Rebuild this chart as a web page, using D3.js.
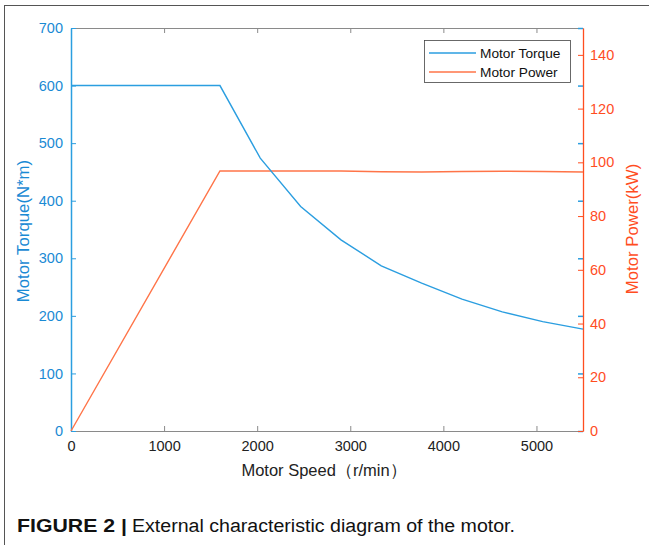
<!DOCTYPE html>
<html><head><meta charset="utf-8">
<script src="https://cdn.jsdelivr.net/npm/d3@7"></script>
<style>body{margin:0;background:#fff}svg{display:block}</style>
</head><body>
<script>
const speeds = [0, 1600, 2033, 2467, 2900, 3333, 3767, 4200, 4633, 5067, 5500];
const torque = [600, 600, 474, 390, 332, 287, 257, 229, 207, 190, 177];
const power  = [0, 96.8, 96.8, 96.8, 96.8, 96.5, 96.4, 96.6, 96.7, 96.6, 96.4];
const xTicks = [0, 1000, 2000, 3000, 4000, 5000];
const yLeftTicks = [0, 100, 200, 300, 400, 500, 600, 700];
const yRightTicks = [0, 20, 40, 60, 80, 100, 120, 140];

const W = 649, H = 545;
const L = 71, R = 583, T = 28, B = 431;
const blue = "#1a8ad4", blueLine = "#2b9ee0", orange = "#ff4d1f", orangeLine = "#ff7448";
const font = "Liberation Sans, Arial, sans-serif";

const svg = d3.select("body").append("svg").attr("width", W).attr("height", H);
svg.append("rect").attr("x", 4.5).attr("y", 5.5).attr("width", 700).attr("height", 600)
  .attr("fill", "none").attr("stroke", "#555").attr("stroke-width", 1);

const x = d3.scaleLinear().domain([0, 5500]).range([L, R]);
const yL = d3.scaleLinear().domain([0, 700]).range([B, T]);
const yR = d3.scaleLinear().domain([0, 150]).range([B, T]);

// x axis bottom & top
const gxb = svg.append("g").attr("transform", `translate(0,${B})`)
  .call(d3.axisBottom(x).tickValues(xTicks).tickFormat(d3.format("d")).tickSizeInner(-5).tickSizeOuter(0).tickPadding(10));
const gxt = svg.append("g").attr("transform", `translate(0,${T})`)
  .call(d3.axisTop(x).tickValues(xTicks).tickSizeInner(-5).tickSizeOuter(0).tickFormat(""));
[gxb, gxt].forEach(g => {
  g.select(".domain").attr("stroke", "#8a8a8a");
  g.selectAll(".tick line").attr("stroke", "#8a8a8a");
});
gxb.selectAll(".tick text").attr("font-family", font).attr("font-size", 14.5).attr("fill", "#222");

// left axis
const gl = svg.append("g").attr("transform", `translate(${L},0)`)
  .call(d3.axisLeft(yL).tickValues(yLeftTicks).tickSizeInner(-5).tickSizeOuter(0).tickPadding(8));
gl.select(".domain").attr("stroke", blueLine).attr("stroke-width", 1.5);
gl.selectAll(".tick line").attr("stroke", blueLine);
gl.selectAll(".tick text").attr("font-family", font).attr("font-size", 14.5).attr("fill", blue);

// left ticks mirrored on right
svg.append("g").attr("transform", `translate(${R},0)`)
  .call(d3.axisRight(yL).tickValues(yLeftTicks).tickSizeInner(-5).tickSizeOuter(0).tickFormat(""))
  .call(g => { g.select(".domain").remove(); g.selectAll(".tick line").attr("stroke", blueLine).attr("stroke-width", 1.5); });

// right axis
const gr = svg.append("g").attr("transform", `translate(${R},0)`)
  .call(d3.axisRight(yR).tickValues(yRightTicks).tickSizeInner(-5).tickSizeOuter(0).tickPadding(7));
gr.select(".domain").attr("stroke", orange).attr("stroke-width", 1.3);
gr.selectAll(".tick line").attr("stroke", orange);
gr.selectAll(".tick text").attr("font-family", font).attr("font-size", 14.5).attr("fill", orange);

// lines
const line = (ys, yscale) => d3.line().x((d, i) => x(speeds[i])).y(d => yscale(d))(ys);
svg.append("path").attr("d", line(power, yR)).attr("fill", "none").attr("stroke", orangeLine).attr("stroke-width", 1.4);
svg.append("path").attr("d", line(torque, yL)).attr("fill", "none").attr("stroke", blueLine).attr("stroke-width", 1.4);

// axis labels
svg.append("text").attr("transform", `translate(29,231) rotate(-90)`).attr("text-anchor", "middle")
  .attr("font-family", font).attr("font-size", 16.8).attr("fill", blue).text("Motor Torque(N*m)");
svg.append("text").attr("transform", `translate(638,229) rotate(-90)`).attr("text-anchor", "middle")
  .attr("font-family", font).attr("font-size", 16.8).attr("fill", orange).text("Motor Power(kW)");
svg.append("text").attr("x", 324).attr("y", 476).attr("text-anchor", "middle")
  .attr("font-family", font).attr("font-size", 16.5).attr("fill", "#222").text("Motor Speed（r/min）");

// legend
const lg = svg.append("g");
lg.append("rect").attr("x", 424.5).attr("y", 40.5).attr("width", 146).attr("height", 42)
  .attr("fill", "#fff").attr("stroke", "#444").attr("stroke-width", 0.8);
const legItems = [["Motor Torque", blueLine], ["Motor Power", orangeLine]];
legItems.forEach(([name, c], i) => {
  const yy = 53 + i * 19;
  lg.append("line").attr("x1", 429).attr("x2", 476).attr("y1", yy).attr("y2", yy).attr("stroke", c).attr("stroke-width", 1.4);
  lg.append("text").attr("x", 480).attr("y", yy + 5).attr("font-family", font).attr("font-size", 13.7).attr("fill", "#111").text(name);
});

// caption
svg.append("text").attr("x", 17).attr("y", 532).attr("font-family", "Liberation Sans Narrow, " + font)
  .attr("font-size", 18).attr("font-weight", "bold").attr("fill", "#111")
  .attr("textLength", 110).attr("lengthAdjust", "spacingAndGlyphs").text("FIGURE 2 |");
svg.append("text").attr("x", 132).attr("y", 532).attr("font-family", "Liberation Sans Narrow, " + font)
  .attr("font-size", 18).attr("fill", "#111")
  .attr("textLength", 383).attr("lengthAdjust", "spacingAndGlyphs").text("External characteristic diagram of the motor.");
</script>
</body></html>
